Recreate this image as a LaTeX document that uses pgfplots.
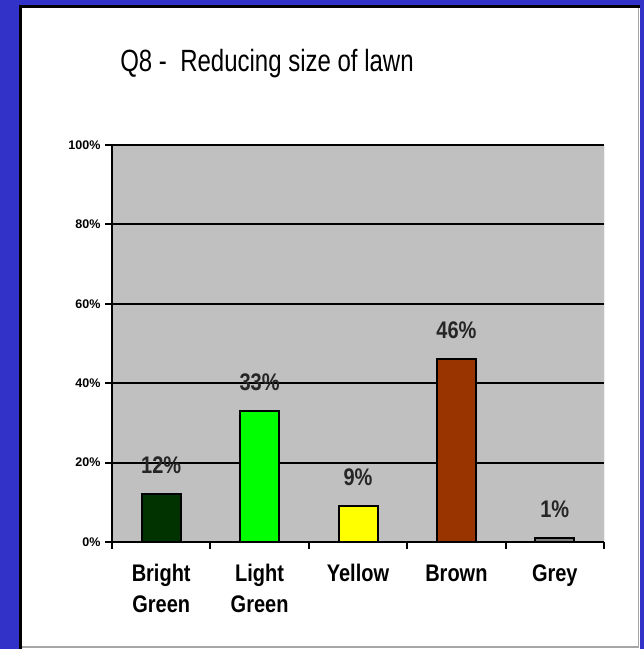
\documentclass[border=0pt]{standalone}
\usepackage{fontspec}
\setmainfont{Liberation Sans}
\usepackage{pgfplots}
\pgfplotsset{compat=1.18}
\definecolor{bgblue}{RGB}{50,50,200}
\definecolor{plotgrey}{RGB}{192,192,192}
\definecolor{dkgreen}{RGB}{0,51,0}
\definecolor{ltgreen}{RGB}{0,255,0}
\definecolor{yel}{RGB}{255,255,0}
\definecolor{brn}{RGB}{153,51,0}
\definecolor{gry}{RGB}{128,128,128}
\begin{document}
\begin{tikzpicture}[x=1pt,y=1pt]
\path[use as bounding box] (0,0) rectangle (644,649);
\fill[bgblue] (0,0) rectangle (644,649);
\fill[white] (19,0) rectangle (640,644);
\draw[gray!70, line width=1.5pt] (20,2) -- (638.5,2) -- (638.5,643);
\draw[black, line width=3pt] (20.5,0) -- (20.5,642.5) -- (640,642.5);
\node[font=\fontsize{24}{28}\selectfont, anchor=base, yscale=1.28] at (267,577) {Q8 -\ \ Reducing size of lawn};
\begin{axis}[
  at={(112pt,107pt)}, anchor=south west,
  scale only axis, width=492pt, height=397pt,
  xmin=-0.5, xmax=4.5, ymin=0, ymax=100,
  axis background/.style={fill=plotgrey},
  axis lines*=left,
  axis line style={black, line width=2pt},
  ytick={0,20,...,100},
  ymajorgrids, grid style={black, line width=2pt},
  /pgf/number format/assume math mode=true,
  yticklabel={\pgfmathprintnumber{\tick}\%},
  yticklabel style={font=\fontsize{12.5}{12}\selectfont\bfseries, xshift=-1pt},
  xtick={-0.5,0.5,...,4.5}, xticklabels={},
  extra x ticks={0,1,2,3,4},
  extra x tick labels={{\vphantom{Bl}Bright\\Green},{\vphantom{Bl}Light\\Green},{\vphantom{Bl}Yellow},{\vphantom{Bl}Brown},{\vphantom{Bl}Grey}},
  extra x tick style={major tick length=0pt, tick label style={align=center, font=\fontsize{20}{26}\selectfont\bfseries, anchor=north, yshift=-18pt, yscale=1.2}},
  major tick length=7pt, tick style={black, line width=2pt}, tick align=outside,
  ybar, bar width=39pt,
  nodes near coords={\pgfmathprintnumber{\pgfplotspointmeta}\%},
  every node near coord/.append style={font=\fontsize{20}{20}\selectfont\bfseries, anchor=south, inner sep=0pt, yshift=19pt, yscale=1.2, black!85},
]
\addplot[fill=dkgreen, draw=black, line width=2pt, bar shift=0pt] coordinates {(0,12)};
\addplot[fill=ltgreen, draw=black, line width=2pt, bar shift=0pt] coordinates {(1,33)};
\addplot[fill=yel, draw=black, line width=2pt, bar shift=0pt] coordinates {(2,9)};
\addplot[fill=brn, draw=black, line width=2pt, bar shift=0pt] coordinates {(3,46)};
\addplot[fill=gry, draw=black, line width=2pt, bar shift=0pt] coordinates {(4,1)};
\draw[gray, line width=1pt] (rel axis cs:1,0) -- (rel axis cs:1,1);
\end{axis}
\end{tikzpicture}
\end{document}
